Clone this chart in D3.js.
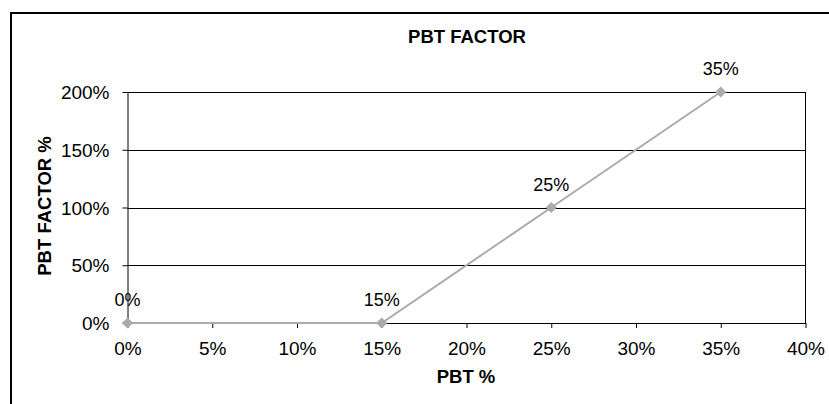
<!DOCTYPE html>
<html><head><meta charset="utf-8">
<script src="https://cdn.jsdelivr.net/npm/d3@7"></script>
<style>body{margin:0;background:#fff}svg{display:block}text{font-family:Arial,"Liberation Sans",sans-serif}</style>
</head><body>
<svg id="c" width="829" height="404"></svg>
<script>
const pbt = [0, 0.15, 0.25, 0.35];
const factor = [0, 0, 1, 2];
const pointLabels = ["0%", "15%", "25%", "35%"];
const xTicks = [0, 0.05, 0.10, 0.15, 0.20, 0.25, 0.30, 0.35, 0.40];
const yTicks = [0, 0.5, 1, 1.5, 2];
const title = "PBT FACTOR", xTitle = "PBT %", yTitle = "PBT FACTOR %";

const svg = d3.select("#c");
svg.append("rect").attr("x",11).attr("y",13).attr("width",900).attr("height",500)
  .attr("fill","#fff").attr("stroke","#000").attr("stroke-width",2);

const L=127.5, R=805.5, T=92, B=323;
const x = d3.scaleLinear().domain([0,0.4]).range([L,R]);
const y = d3.scaleLinear().domain([0,2]).range([B,T]);
const fmt = d3.format(".0%");

svg.append("g").selectAll("line").data(yTicks.filter(d=>d>0)).join("line")
  .attr("x1",L).attr("x2",R).attr("y1",d=>Math.round(y(d))+0.5).attr("y2",d=>Math.round(y(d))+0.5)
  .attr("stroke","#000").attr("stroke-width",1);
svg.append("line").attr("x1",R).attr("x2",R).attr("y1",T).attr("y2",B).attr("stroke","#000");

const xa = svg.append("g").attr("transform",`translate(0,${B})`)
  .call(d3.axisBottom(x).tickValues(xTicks).tickFormat(fmt).tickSize(5).tickSizeOuter(0));
const ya = svg.append("g").attr("transform",`translate(${L},0)`)
  .call(d3.axisLeft(y).tickValues(yTicks).tickFormat(fmt).tickSize(5).tickSizeOuter(0));
[xa,ya].forEach(a=>{a.attr("font-size",null).attr("font-family",null);
  a.selectAll("path,line").attr("stroke","#000");
  a.selectAll("text").style("font-size","19px").attr("fill","#000");});
xa.selectAll("text").attr("dy",0).attr("y",32);
ya.selectAll("text").attr("x",-18).attr("dy","0.35em");

const pts = pbt.map((d,i)=>[d,factor[i]]);
svg.append("path").datum(pts).attr("fill","none").attr("stroke","#ababab").attr("stroke-width",2)
  .attr("d",d3.line().x(d=>x(d[0])).y(d=>y(d[1])));
svg.append("g").selectAll("path").data(pts).join("path")
  .attr("transform",d=>`translate(${x(d[0])},${y(d[1])})`)
  .attr("d",d3.symbol(d3.symbolDiamond2,80)).attr("fill","#ababab");
svg.append("g").selectAll("text").data(pts).join("text")
  .attr("x",d=>x(d[0])).attr("y",d=>y(d[1])-17).attr("text-anchor","middle")
  .style("font-size","18px").text((d,i)=>pointLabels[i]);

svg.append("text").attr("x",467).attr("y",43).attr("text-anchor","middle")
  .style("font-size","18.5px").attr("font-weight","bold").text(title);
svg.append("text").attr("x",466).attr("y",383).attr("text-anchor","middle")
  .style("font-size","18.5px").attr("font-weight","bold").text(xTitle);
svg.append("text").attr("transform","translate(51,206) rotate(-90)").attr("text-anchor","middle")
  .style("font-size","18.5px").attr("font-weight","bold").text(yTitle);
</script>
</body></html>
